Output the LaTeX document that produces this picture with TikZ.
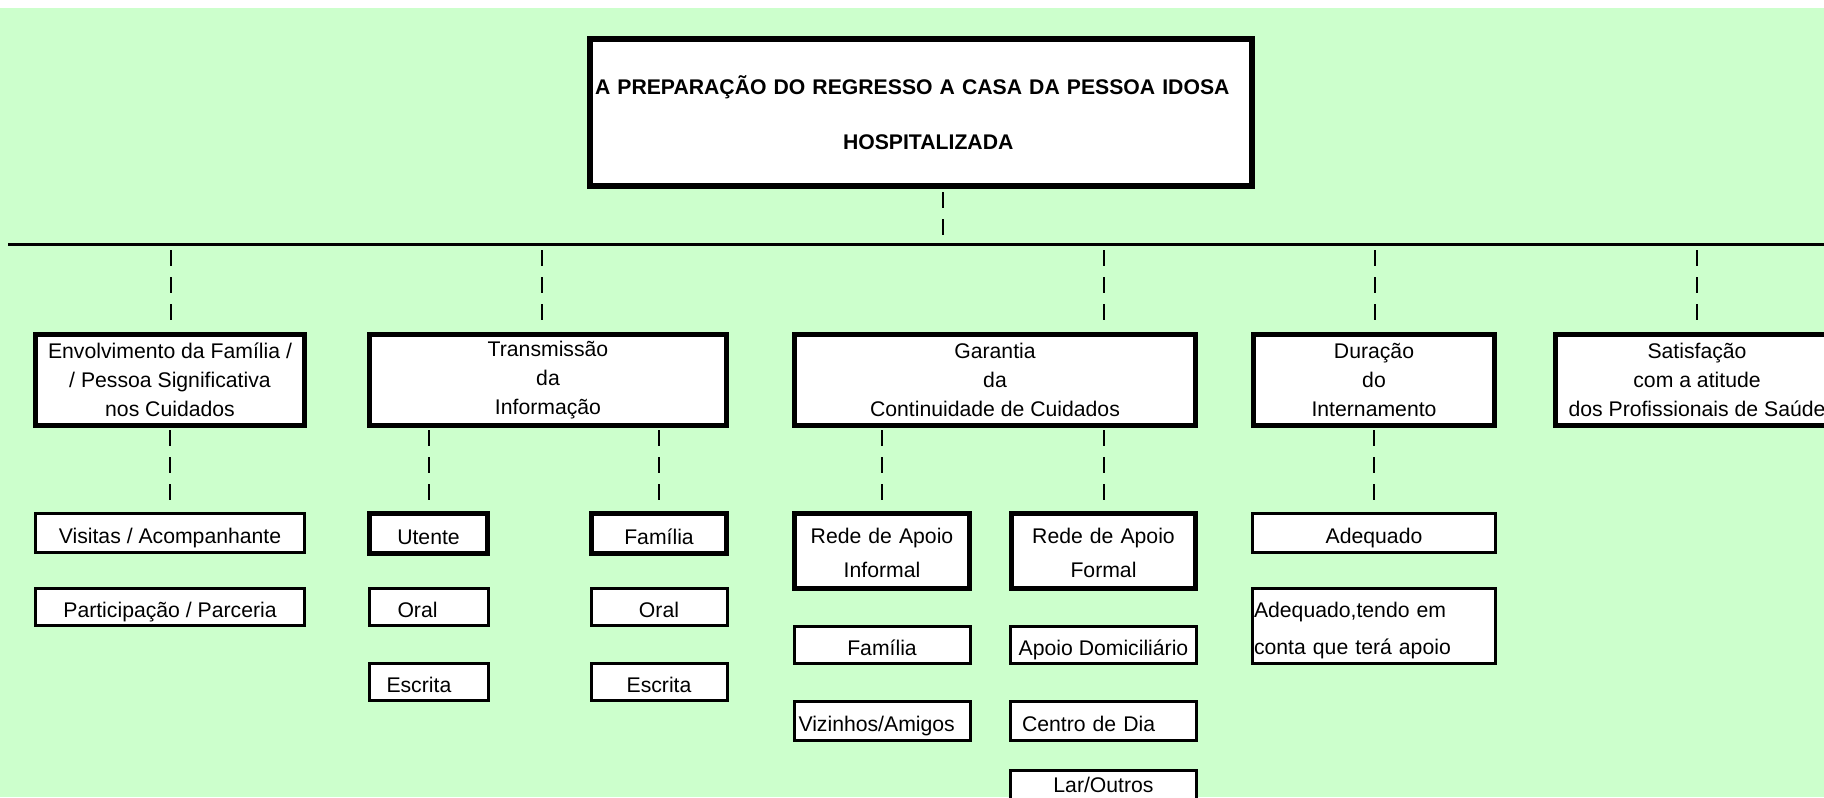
\documentclass[tikz,border=0pt]{standalone}
\usepackage{fontspec}
\setmainfont{Liberation Sans}
\usetikzlibrary{positioning}
\definecolor{sheet}{HTML}{CCFFCC}
\tikzset{
    head/.style={
        draw,
        line width=3pt,
        fill=white,
        inner xsep=2.5pt,
        inner ysep=0pt,
        text width=326pt,
        minimum height=73.5pt,
        align=left,
        font=\bfseries\fontsize{10.6}{27.5}\selectfont,
    },
    topic/.style={
        draw,
        line width=2.5pt,
        fill=white,
        inner sep=0pt,
        minimum height=45.5pt,
        align=center,
        font=\fontsize{10.6}{14.5}\selectfont,
    },
    sub/.style={
        draw,
        line width=2.5pt,
        fill=white,
        inner sep=0pt,
        minimum height=20pt,
        text height=10.6pt,
        text depth=0pt,
        align=center,
        font=\fontsize{10.6}{17}\selectfont,
    },
    item/.style={
        draw,
        line width=1.5pt,
        fill=white,
        inner sep=0pt,
        minimum height=18.5pt,
        text height=10.6pt,
        text depth=0pt,
        align=center,
        font=\fontsize{10.6}{18.5}\selectfont,
    },
    link/.style={
        line width=1pt,
        dash pattern=on 8pt off 5.5pt,
    },
}
\begin{document}
\begin{tikzpicture}[x=0.5pt,y=-0.5pt,node distance=17pt]
    \useasboundingbox (0,0) rectangle (1824,797);
    \clip (0,0) rectangle (1824,797);
    \fill [white] (0,0) rectangle (1824,797);
    \fill [sheet] (0,8) rectangle (1824,797);

    \node [head] (title) at (921,112.5) {A PREPARAÇÃO DO REGRESSO A CASA DA PESSOA IDOSA\\\hspace*{124pt}HOSPITALIZADA};

    \coordinate (barL) at (8,244.5);
    \coordinate (barR) at (1824,244.5);
    \coordinate (b0) at (943,244.5);
    \coordinate (b1) at (171,244.5);
    \coordinate (b2) at (542,244.5);
    \coordinate (b3) at (1103.5,244.5);
    \coordinate (b4) at (1375,244.5);
    \coordinate (b5) at (1697,244.5);
    \draw [line width=1.5pt] (barL) -- (barR);

    % first level
    \node [topic, minimum width=134.5pt] (env) at (170,380) {Envolvimento da Família /\\/ Pessoa Significativa\\nos Cuidados};
    \node [topic, minimum width=178.5pt] (trans) at (548,380) {Transmissão\\da\\Informação};
    \node [topic, minimum width=200.5pt] (gar) at (995,380) {Garantia\\da\\Continuidade de Cuidados};
    \node [topic, minimum width=120.5pt] (dur) at (1374,380) {Duração\\do\\Internamento};
    \node [topic, minimum width=141.5pt] (sat) at (1697,380) {Satisfação\\com a atitude\\dos Profissionais de Saúde};

    % second level
    \node [item, minimum width=134.5pt, minimum height=19.5pt] (visitas) at (170,533) {Visitas / Acompanhante};
    \node [item, minimum width=134.5pt] (partic) [below=16.5pt of visitas] {Participação / Parceria};

    \node [sub, minimum width=59pt] (utente) at (428.5,533.5) {Utente};
    \node [item, text width=59.5pt, align=left] (oralA) [below=15.5pt of utente] {\hspace*{14.25pt}Oral};
    \node [item, text width=59.5pt, align=left] (escA) [below=17.5pt of oralA] {\hspace*{8.75pt}Escrita};
    \node [sub, minimum width=67.5pt] (famT) at (659,533.5) {Família};
    \node [item, minimum width=68pt] (oralB) [below=15.5pt of famT] {Oral};
    \node [item, minimum width=68pt] (escB) [below=17.5pt of oralB] {Escrita};

    \node [sub, text width=87.5pt, minimum height=37.5pt, text height=0pt, text depth=7.4pt] (informal) at (882,551) {Rede de Apoio\\Informal};
    \node [item, minimum width=88pt] (famG) [below=17pt of informal] {Família};
    \node [item, text width=88pt, align=left, minimum height=19.5pt] (viz) [below=17.5pt of famG] {\hspace*{2.25pt}Vizinhos/Amigos};
    \node [sub, text width=92pt, minimum height=37.5pt, text height=0pt, text depth=7.4pt] (formal) at (1103.5,551) {Rede de Apoio\\Formal};
    \node [item, minimum width=93pt] (apoio) [below=17pt of formal] {Apoio Domiciliário};
    \node [item, text width=93pt, align=left, minimum height=19.5pt] (centro) [below=17.5pt of apoio] {\hspace*{5.75pt}Centro de Dia};
    \node [item, minimum width=93pt, text depth=7pt] (lar) [below=13.5pt of centro] {Lar/Outros};

    \node [item, minimum width=121.5pt, minimum height=19.5pt] (adeq) at (1374,533) {Adequado};
    \node [item, text width=120pt, inner xsep=0.75pt, align=left, minimum height=37.5pt, text height=0pt, text depth=9pt] (adeqB) [below=16.5pt of adeq] {Adequado,tendo em\\conta que terá apoio};

    % dashed links
    \draw [link, shorten <=1.5pt, shorten >=4.25pt] (title.south -| b0) -- (b0);
    \foreach \b/\n in {b1/env, b2/trans, b3/gar, b4/dur, b5/sat}
        \draw [link, shorten <=2.75pt, shorten >=5.75pt] (\b) -- (\b |- \n.north);
    \draw [link, shorten <=1pt, shorten >=5.5pt] (env.south) -- (visitas.north);
    \draw [link, shorten <=1pt, shorten >=5.5pt] (utente.north |- trans.south) -- (utente.north);
    \draw [link, shorten <=1pt, shorten >=5.5pt] (famT.north |- trans.south) -- (famT.north);
    \draw [link, shorten <=1pt, shorten >=5.5pt] (informal.north |- gar.south) -- (informal.north);
    \draw [link, shorten <=1pt, shorten >=5.5pt] (formal.north |- gar.south) -- (formal.north);
    \draw [link, shorten <=1pt, shorten >=5.5pt] (dur.south) -- (adeq.north);
\end{tikzpicture}
\end{document}
